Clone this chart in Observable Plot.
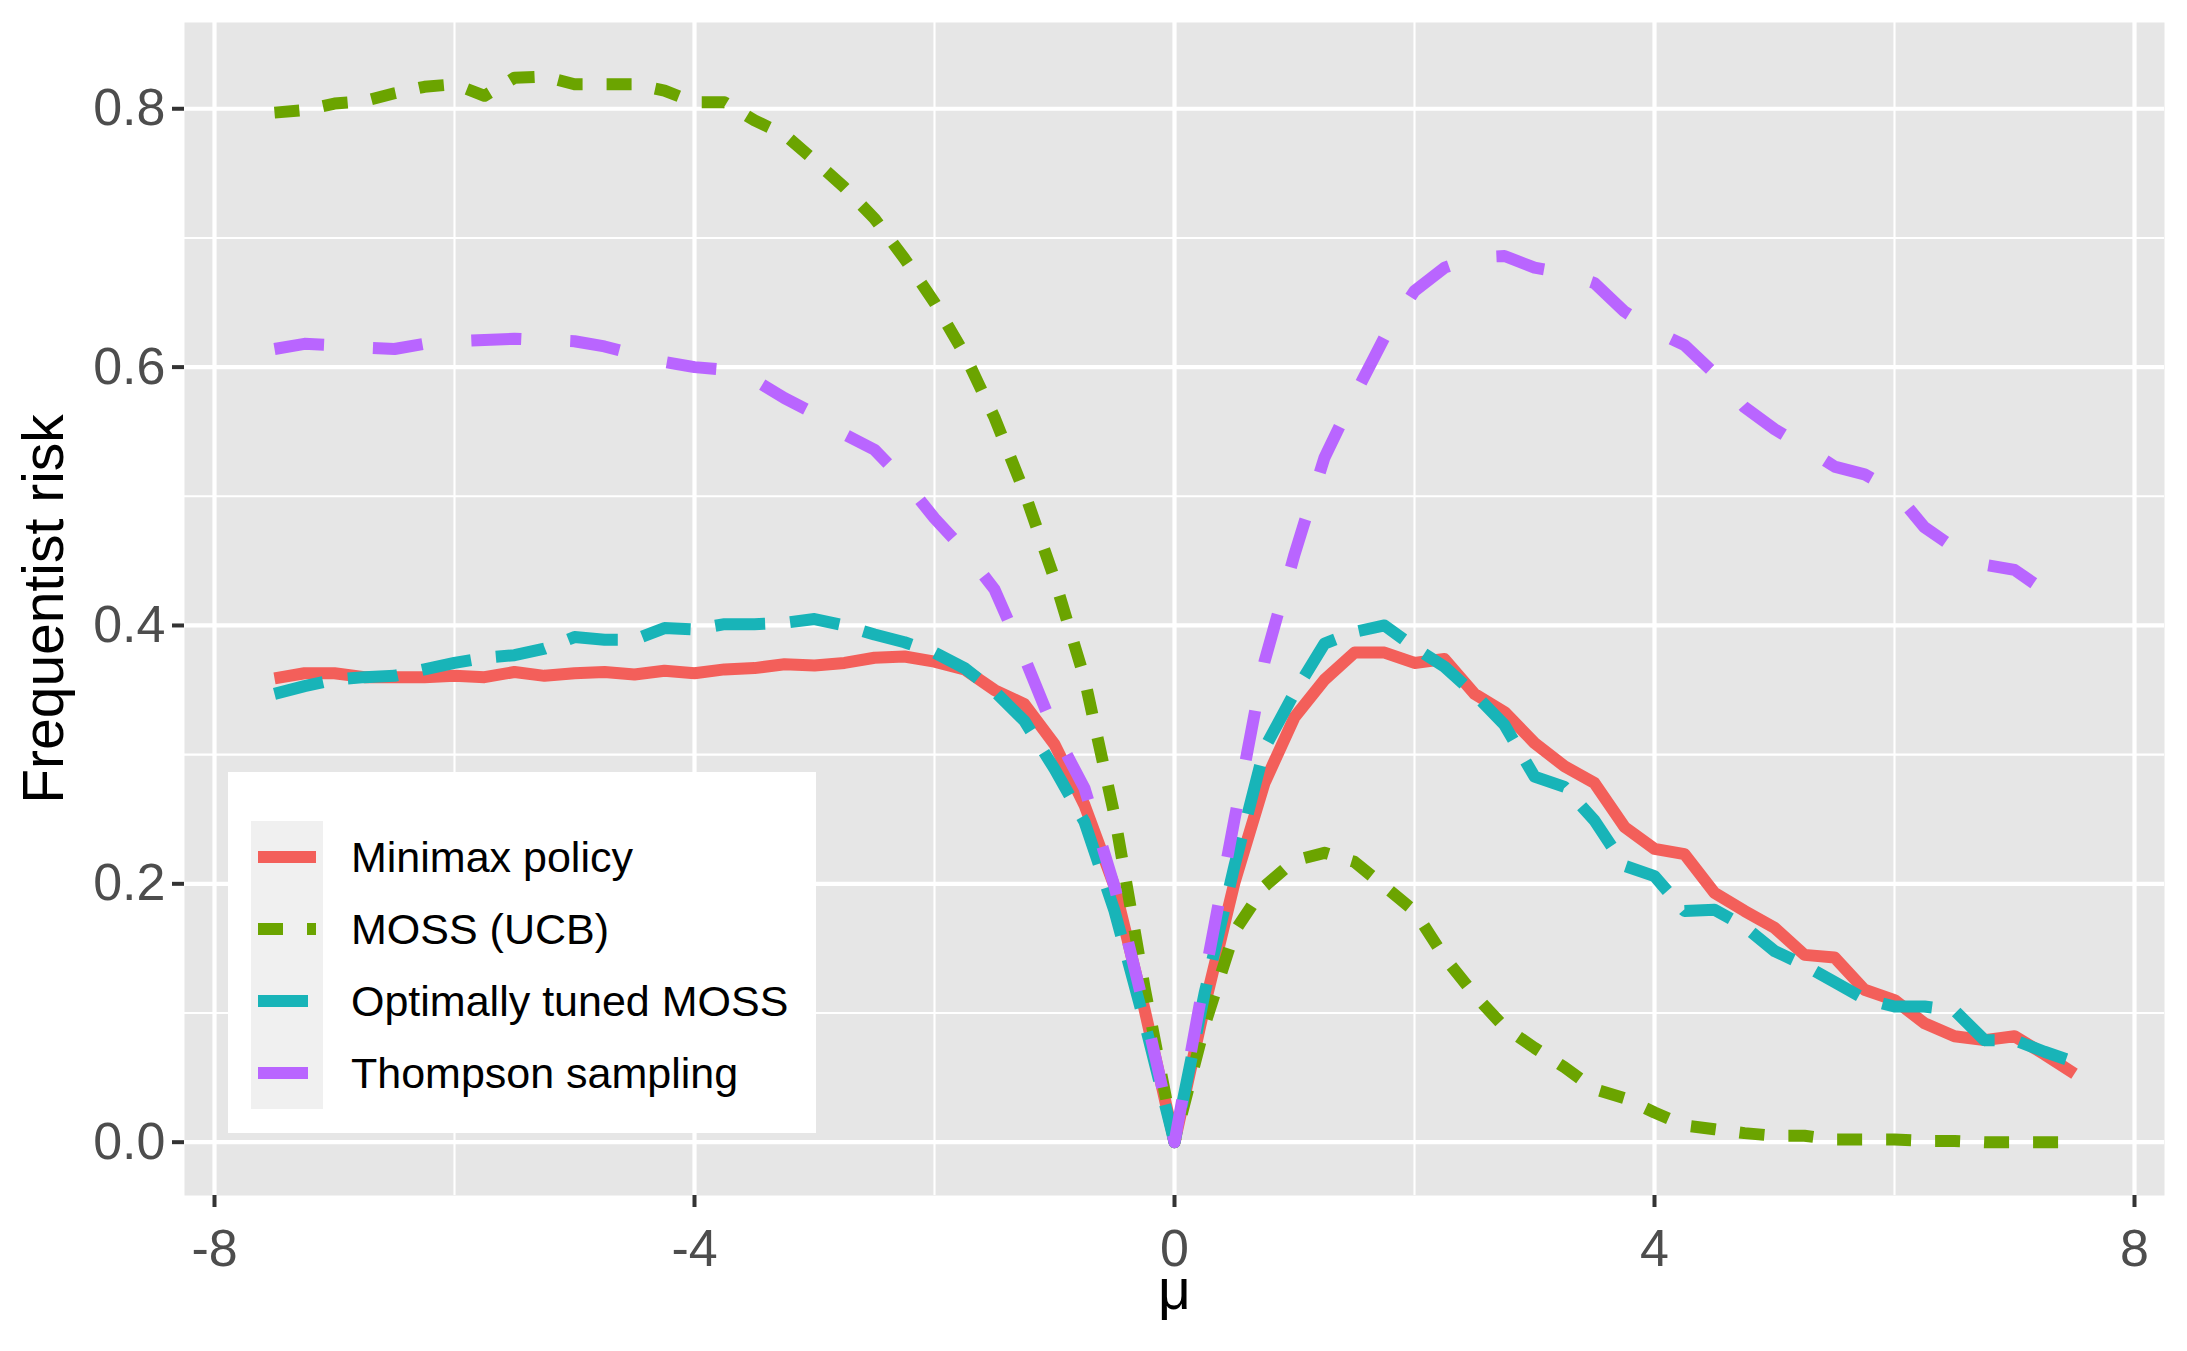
<!DOCTYPE html>
<html><head><meta charset="utf-8">
<script src="https://cdn.jsdelivr.net/npm/d3@7"></script>
<script src="https://cdn.jsdelivr.net/npm/@observablehq/plot@0.6"></script>
<style>
html,body{margin:0;padding:0;background:#fff;overflow:hidden;}
#wrap{position:relative;width:2187px;height:1351px;font-family:"Liberation Sans",Arial,sans-serif;}
#legend{position:absolute;left:228px;top:772px;width:588px;height:361px;background:#fff;}
</style></head><body><div id="wrap"></div>
<script>
const mu = [-7.5,-7.25,-7,-6.75,-6.5,-6.25,-6,-5.75,-5.5,-5.25,-5,-4.75,-4.5,-4.25,-4,-3.75,-3.5,-3.25,-3,-2.75,-2.5,-2.25,-2,-1.75,-1.5,-1.25,-1,-0.75,-0.5,-0.25,0,0.25,0.5,0.75,1,1.25,1.5,1.75,2,2.25,2.5,2.75,3,3.25,3.5,3.75,4,4.25,4.5,4.75,5,5.25,5.5,5.75,6,6.25,6.5,6.75,7,7.25,7.5];

const minimax = [0.359,0.363,0.363,0.360,0.360,0.360,0.361,0.360,0.364,0.361,0.363,0.364,0.362,0.365,0.363,0.366,0.367,0.370,0.369,0.371,0.375,0.376,0.372,0.366,0.350,0.339,0.308,0.261,0.198,0.103,
0.000,
0.105,0.201,0.278,0.329,0.358,0.379,0.379,0.371,0.374,0.347,0.333,0.309,0.291,0.278,0.244,0.227,0.223,0.193,0.179,0.166,0.145,0.143,0.118,0.110,0.092,0.082,0.079,0.082,0.068,0.053];

const mossUCB = [0.797,0.799,0.804,0.806,0.812,0.817,0.819,0.810,0.824,0.825,0.819,0.819,0.819,0.814,0.805,0.805,0.791,0.780,0.760,0.739,0.715,0.684,0.650,0.610,0.561,0.503,0.436,0.359,0.253,0.120,
0.000,
0.090,0.163,0.198,0.218,0.224,0.217,0.198,0.179,0.143,0.114,0.089,0.073,0.058,0.041,0.034,0.023,0.013,0.010,0.007,0.005,0.005,0.002,0.002,0.002,0.001,0.001,0.000,0.000,0.000,0.000];

const tunedMoss = [0.347,0.353,0.358,0.360,0.361,0.366,0.371,0.375,0.377,0.382,0.391,0.389,0.389,0.398,0.397,0.401,0.401,0.402,0.405,0.400,0.393,0.387,0.379,0.367,0.349,0.326,0.289,0.248,0.179,0.093,
0.000,
0.115,0.214,0.305,0.348,0.386,0.395,0.400,0.383,0.368,0.347,0.323,0.283,0.275,0.249,0.214,0.206,0.179,0.180,0.167,0.148,0.137,0.124,0.111,0.105,0.105,0.102,0.079,0.079,0.070,0.062];

const thompson = [0.614,0.618,0.617,0.615,0.614,0.618,0.620,0.621,0.622,0.621,0.620,0.616,0.610,0.604,0.600,0.598,0.590,0.576,0.564,0.548,0.536,0.512,0.483,0.458,0.428,0.375,0.318,0.274,0.198,0.103,
0.000,
0.127,0.250,0.372,0.455,0.530,0.578,0.623,0.659,0.677,0.685,0.686,0.677,0.673,0.665,0.643,0.628,0.617,0.595,0.569,0.552,0.538,0.523,0.517,0.504,0.476,0.460,0.447,0.443,0.427,0.417];

const seriesNames = ["Minimax policy", "MOSS (UCB)", "Optimally tuned MOSS", "Thompson sampling"];
const seriesValues = [minimax, mossUCB, tunedMoss, thompson];
const seriesColors = ["#F35F5A", "#6BA400", "#18B4B8", "#B965FF"];
const seriesDash = [null, "25,24", "50,25", "50,49"];

const xMajor = [-8, -4, 0, 4, 8];
const xMinor = [-6, -2, 2, 6];
const yMajor = [0, 0.2, 0.4, 0.6, 0.8];
const yMinor = [0.1, 0.3, 0.5, 0.7];

const lineMarks = seriesValues.map((vals, s) =>
  Plot.line(mu.map((m, i) => ({mu: m, risk: vals[i]})), {
    x: "mu", y: "risk",
    stroke: seriesColors[s], strokeWidth: 12,
    strokeDasharray: seriesDash[s] || undefined,
    strokeLinecap: "butt", strokeLinejoin: "round"
  })
);

const chart = Plot.plot({
  width: 2187, height: 1351,
  marginLeft: 184, marginRight: 23, marginTop: 22, marginBottom: 156,
  style: {fontFamily: '"Liberation Sans", Arial, sans-serif', background: "white", overflow: "visible"},
  x: {domain: [-8.25, 8.25]},
  y: {domain: [-0.041275, 0.866775]},
  marks: [
    Plot.frame({fill: "#E6E6E6", stroke: null}),
    Plot.ruleX(xMinor, {stroke: "white", strokeWidth: 2.1}),
    Plot.ruleY(yMinor, {stroke: "white", strokeWidth: 2.1}),
    Plot.ruleX(xMajor, {stroke: "white", strokeWidth: 4.2}),
    Plot.ruleY(yMajor, {stroke: "white", strokeWidth: 4.2}),
    ...lineMarks,
    Plot.axisX(xMajor, {tickSize: 12, tickPadding: 22, strokeWidth: 4, stroke: "#333333", fill: "#4D4D4D", fontSize: 52, tickFormat: d => String(d), label: null}),
    Plot.axisY(yMajor, {tickSize: 12, tickPadding: 7, strokeWidth: 4, stroke: "#333333", fill: "#4D4D4D", fontSize: 52, tickFormat: d3.format(".1f"), label: null}),
    Plot.text(["μ"], {text: d => d, frameAnchor: "bottom", lineAnchor: "bottom", dy: 113, fontSize: 57, fill: "black"}),
    Plot.text(["Frequentist risk"], {text: d => d, frameAnchor: "left", textAnchor: "middle", rotate: -90, lineAnchor: "bottom", dx: -122, fontSize: 57, fill: "black"})
  ]
});

const wrap = document.getElementById("wrap");
wrap.appendChild(chart);

// legend
const legend = document.createElement("div");
legend.id = "legend";
wrap.appendChild(legend);
const lsvg = d3.select(legend).append("svg").attr("width", 588).attr("height", 361)
  .style("font-family", '"Liberation Sans", Arial, sans-serif');
seriesNames.forEach((name, i) => {
  const top = 49 + 72 * i, cy = top + 36;
  lsvg.append("rect").attr("x", 23).attr("y", top).attr("width", 72).attr("height", 72).attr("fill", "#F0F0F0");
  const ln = lsvg.append("line").attr("x1", 30).attr("x2", 88).attr("y1", cy).attr("y2", cy)
    .attr("stroke", seriesColors[i]).attr("stroke-width", 12).attr("stroke-linecap", "butt");
  if (seriesDash[i]) ln.attr("stroke-dasharray", seriesDash[i]);
  lsvg.append("text").attr("x", 123).attr("y", cy + 15).attr("font-size", 43).attr("fill", "black").text(name);
});
</script>
</body></html>
